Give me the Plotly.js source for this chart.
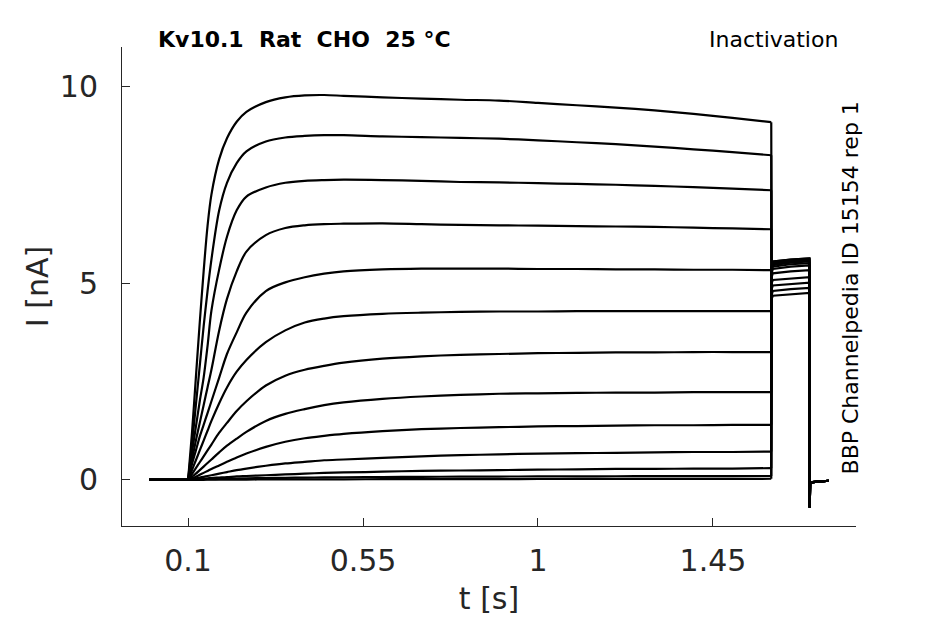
<!DOCTYPE html>
<html>
<head>
<meta charset="utf-8">
<script src="https://cdn.plot.ly/plotly-3.0.1.min.js"></script>
<style>
  html, body { margin: 0; padding: 0; background: #fff; }
  #chart { width: 945px; height: 624px; }
</style>
</head>
<body>
<div id="chart"></div>
<script>
// sample times of the prepulse sweep (s)
const t = [0, 0.1, 0.11, 0.12, 0.13, 0.14, 0.15, 0.16, 0.18, 0.2, 0.225, 0.25, 0.3, 0.35,
  0.4, 0.45, 0.5, 0.6, 0.7, 0.8, 0.9, 1.0, 1.1, 1.2, 1.3, 1.4, 1.5, 1.6];

// current of each sweep (nA) at the times above
const sweep01 = [0, 0, 1.2, 2.6, 4.0, 5.3, 6.45, 7.25, 8.15, 8.68, 9.1, 9.35, 9.6, 9.72,
  9.77, 9.78, 9.76, 9.72, 9.69, 9.66, 9.64, 9.58, 9.52, 9.46, 9.39, 9.3, 9.2, 9.09];
const sweep02 = [0, 0, 0.9, 1.9, 2.9, 3.9, 4.8, 5.6, 6.85, 7.55, 8.05, 8.35, 8.6, 8.7,
  8.74, 8.76, 8.76, 8.73, 8.71, 8.69, 8.67, 8.63, 8.58, 8.53, 8.47, 8.4, 8.33, 8.25];
const sweep03 = [0, 0, 0.7, 1.35, 2.0, 2.6, 3.4, 4.3, 5.35, 6.18, 6.85, 7.2, 7.43, 7.55,
  7.6, 7.62, 7.63, 7.62, 7.6, 7.57, 7.56, 7.54, 7.52, 7.5, 7.47, 7.44, 7.4, 7.36];
const sweep04 = [0, 0, 0.5, 1.0, 1.45, 1.9, 2.35, 2.8, 3.8, 4.6, 5.3, 5.8, 6.22, 6.4,
  6.47, 6.5, 6.51, 6.52, 6.5, 6.48, 6.47, 6.46, 6.45, 6.44, 6.43, 6.41, 6.39, 6.37];
const sweep05 = [0, 0, 0.4, 0.75, 1.1, 1.4, 1.7, 2.0, 2.6, 3.2, 3.75, 4.25, 4.8, 5.02,
  5.15, 5.24, 5.3, 5.35, 5.37, 5.37, 5.37, 5.36, 5.36, 5.35, 5.35, 5.34, 5.34, 5.33];
const sweep06 = [0, 0, 0.25, 0.5, 0.75, 1.0, 1.25, 1.5, 1.95, 2.35, 2.75, 3.05, 3.5, 3.8,
  4.0, 4.1, 4.16, 4.22, 4.25, 4.27, 4.28, 4.28, 4.29, 4.29, 4.29, 4.29, 4.29, 4.29];
const sweep07 = [0, 0, 0.15, 0.3, 0.45, 0.6, 0.75, 0.9, 1.2, 1.45, 1.75, 2.0, 2.4, 2.65,
  2.8, 2.9, 2.98, 3.08, 3.14, 3.18, 3.2, 3.22, 3.23, 3.24, 3.24, 3.25, 3.25, 3.25];
const sweep08 = [0, 0, 0.08, 0.16, 0.25, 0.34, 0.43, 0.52, 0.7, 0.87, 1.05, 1.22, 1.5, 1.68,
  1.8, 1.9, 1.97, 2.06, 2.12, 2.16, 2.19, 2.2, 2.21, 2.22, 2.22, 2.23, 2.23, 2.23];
const sweep09 = [0, 0, 0.04, 0.08, 0.13, 0.18, 0.23, 0.28, 0.37, 0.46, 0.57, 0.67, 0.84, 0.97,
  1.06, 1.12, 1.17, 1.24, 1.29, 1.32, 1.34, 1.36, 1.37, 1.38, 1.39, 1.39, 1.4, 1.4];
const sweep10 = [0, 0, 0.02, 0.04, 0.06, 0.08, 0.1, 0.12, 0.16, 0.2, 0.25, 0.29, 0.36, 0.42,
  0.46, 0.5, 0.52, 0.56, 0.6, 0.63, 0.65, 0.67, 0.68, 0.69, 0.7, 0.71, 0.71, 0.72];
const sweep11 = [0, 0, 0.01, 0.02, 0.03, 0.035, 0.04, 0.05, 0.06, 0.07, 0.09, 0.1, 0.12, 0.14,
  0.16, 0.18, 0.19, 0.21, 0.23, 0.24, 0.25, 0.26, 0.27, 0.28, 0.28, 0.29, 0.29, 0.3];
const sweep12 = [0, 0, 0.005, 0.01, 0.012, 0.015, 0.018, 0.02, 0.025, 0.03, 0.035, 0.04, 0.05, 0.055,
  0.06, 0.065, 0.068, 0.075, 0.08, 0.083, 0.086, 0.09, 0.092, 0.094, 0.096, 0.098, 0.099, 0.1];
const sweep13 = [0, 0, 0, 0.002, 0.003, 0.004, 0.005, 0.006, 0.007, 0.008, 0.009, 0.01, 0.012, 0.014,
  0.015, 0.016, 0.017, 0.019, 0.02, 0.022, 0.023, 0.024, 0.025, 0.026, 0.027, 0.028, 0.029, 0.03];

// test pulse and return to holding (s)
const tailT = [1.601, 1.604, 1.65, 1.698, 1.699, 1.7, 1.748];
// test-pulse level of each sweep (nA) at tailT[0..3]
const tailStart = [4.6, 4.7, 4.85, 5.0, 5.15, 5.25, 5.3, 5.33, 5.36, 5.38, 5.4, 5.42, 5.42];
const tailRise  = [4.68, 4.8, 4.94, 5.08, 5.25, 5.36, 5.42, 5.46, 5.49, 5.51, 5.53, 5.55, 5.55];
const tailMid   = [4.72, 4.85, 4.98, 5.12, 5.3, 5.42, 5.48, 5.52, 5.55, 5.57, 5.58, 5.6, 5.6];
const tailEnd   = [4.75, 4.88, 5.01, 5.15, 5.33, 5.45, 5.51, 5.55, 5.58, 5.6, 5.61, 5.63, 5.63];
// spike and holding current after the test pulse (nA)
const offSpike = -0.7;
const offStep = -0.06;
const offEnd = -0.02;

const xTicks = [0.1, 0.55, 1, 1.45];
const xTickText = ['0.1', '0.55', '1', '1.45'];
const yTicks = [0, 5, 10];
const yTickText = ['0', '5', '10'];

const sweeps = [sweep01, sweep02, sweep03, sweep04, sweep05, sweep06, sweep07,
  sweep08, sweep09, sweep10, sweep11, sweep12, sweep13];

const lineStyle = { color: '#000000', width: 2.2 };
const base = { type: 'scatter', mode: 'lines', hoverinfo: 'skip', showlegend: false };

// each sweep: flat holding (linear), activation (smoothed), test pulse (linear)
const traces = [];
sweeps.forEach((s, i) => {
  const last = t.length - 1;
  traces.push(Object.assign({}, base, {
    x: t.slice(0, 2), y: s.slice(0, 2), line: lineStyle,
  }));
  traces.push(Object.assign({}, base, {
    x: t.slice(1), y: s.slice(1),
    line: Object.assign({ shape: 'spline', smoothing: 0.9 }, lineStyle),
  }));
  traces.push(Object.assign({}, base, {
    x: [t[last]].concat(tailT),
    y: [s[last], tailStart[i], tailRise[i], tailMid[i], tailEnd[i], offSpike, offStep, offEnd],
    line: lineStyle,
  }));
});

const axisColor = '#262626';
const layout = {
  width: 945,
  height: 624,
  paper_bgcolor: '#ffffff',
  plot_bgcolor: '#ffffff',
  font: { family: 'DejaVu Sans', color: axisColor, size: 30 },
  margin: { l: 122, r: 89, t: 47, b: 98 },
  showlegend: false,
  xaxis: {
    range: [-0.07, 1.818],
    tickvals: xTicks,
    ticktext: xTickText,
    ticks: 'inside',
    ticklen: 8,
    tickcolor: axisColor,
    ticklabelstandoff: 8,
    showline: true,
    linecolor: axisColor,
    linewidth: 1,
    showgrid: false,
    zeroline: false,
    tickfont: { size: 30, color: axisColor },
    title: { text: 't [s]', font: { size: 30, color: axisColor }, standoff: 10 },
  },
  yaxis: {
    range: [-1.17, 11],
    tickvals: yTicks,
    ticktext: yTickText,
    ticks: 'inside',
    ticklen: 8,
    tickcolor: axisColor,
    ticklabelstandoff: 17,
    showline: true,
    linecolor: axisColor,
    linewidth: 1,
    showgrid: false,
    zeroline: false,
    tickfont: { size: 30, color: axisColor },
    title: { text: 'I [nA]', font: { size: 30, color: axisColor }, standoff: 2 },
  },
  annotations: [
    {
      text: '<b>Kv10.1  Rat  CHO  25 °C</b>',
      xref: 'paper', yref: 'paper', x: 0.047, y: 1.0167,
      xanchor: 'left', yanchor: 'middle', showarrow: false,
      font: { family: 'DejaVu Sans', size: 22, color: '#000000' },
    },
    {
      text: 'Inactivation',
      xref: 'paper', yref: 'paper', x: 0.978, y: 1.0167,
      xanchor: 'right', yanchor: 'middle', showarrow: false,
      font: { family: 'DejaVu Sans', size: 22, color: '#000000' },
    },
    {
      text: 'BBP Channelpedia ID 15154 rep 1',
      xref: 'paper', yref: 'paper', x: 0.9918, y: 0.498,
      xanchor: 'center', yanchor: 'middle', showarrow: false, textangle: -90,
      font: { family: 'DejaVu Sans', size: 22, color: '#000000' },
    },
  ],
};

Plotly.newPlot('chart', traces, layout, { displayModeBar: false, staticPlot: true });
</script>
</body>
</html>
